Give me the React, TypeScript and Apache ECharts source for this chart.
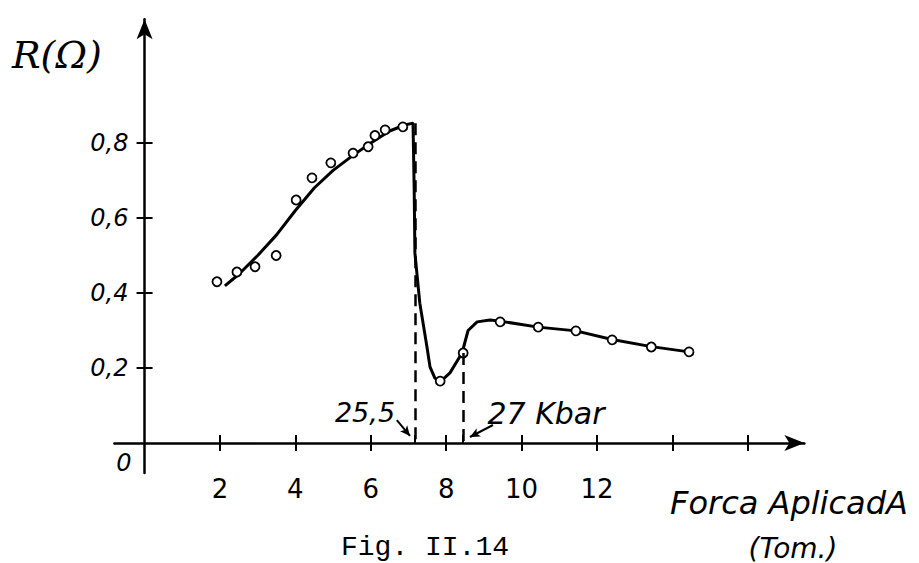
import { useEffect, useRef } from "react";
import * as echarts from "echarts";

// Measured points (open circles): applied force (Ton) vs resistance (ohm)
const pointForce = [1.92, 2.45, 2.93, 3.49, 4.02, 4.44, 4.94, 5.53, 5.93, 6.11, 6.38, 6.85, 7.84, 8.45, 9.43, 10.44, 11.44, 12.4, 13.44, 14.44];
const pointResistance = [0.43, 0.456, 0.47, 0.5, 0.648, 0.707, 0.747, 0.773, 0.79, 0.82, 0.835, 0.843, 0.165, 0.24, 0.323, 0.309, 0.299, 0.275, 0.256, 0.243];

// Hand-drawn fitted curve
const curveForce = [2.13, 2.5, 3.0, 3.5, 4.0, 4.5, 5.0, 5.5, 6.0, 6.5, 6.9, 7.12, 7.15, 7.17, 7.3, 7.49, 7.57, 7.7, 7.84, 8.1, 8.42, 8.58, 8.82, 9.16, 9.43, 10.44, 11.44, 12.4, 13.44, 14.44];
const curveResistance = [0.419, 0.45, 0.5, 0.555, 0.62, 0.68, 0.727, 0.765, 0.8, 0.832, 0.848, 0.853, 0.683, 0.507, 0.373, 0.256, 0.203, 0.173, 0.163, 0.187, 0.24, 0.3, 0.323, 0.328, 0.325, 0.309, 0.299, 0.276, 0.257, 0.243];

// Axis ticks / labels
const xTickValues = [2, 4, 6, 8, 10, 12, 14, 16];
const xLabelValues = [2, 4, 6, 8, 10, 12];
const yTickValues = [0.2, 0.4, 0.6, 0.8];

// Transition guides (dashed verticals) and annotation arrows
const guideForce = [7.17, 8.45];
const guideTop = [0.853, 0.24];
const arrowFrom = [[6.69, 0.061], [9.24, 0.048]];
const arrowTo = [[7.04, 0.019], [8.63, 0.016]];

const HAND = "'DejaVu Sans', 'Liberation Sans', sans-serif";

export default function App() {
  const ref = useRef<HTMLDivElement>(null);

  useEffect(() => {
    if (!ref.current) return;
    const chart = echarts.init(ref.current, undefined, { renderer: "svg" });
    const black = "#000";
    const tickStyle = { color: black, width: 2 };
    const xMin = -0.8, xMax = 17.5, yMin = -0.08, yMax = 1.13;

    const guideLines = guideForce.map((x, i) => [
      { coord: [x, guideTop[i]], symbol: "none" },
      { coord: [x, 0], symbol: "none" },
    ]);
    const arrowLines = arrowFrom.map((p, i) => [
      { coord: p, symbol: "none", lineStyle: { type: "solid", width: 2, color: black } },
      { coord: arrowTo[i], symbol: "arrow", symbolSize: [7, 10] },
    ]);

    chart.setOption({
      animation: false,
      backgroundColor: "#fff",
      grid: { left: 114.4, right: 114.6, top: 19.25, bottom: 90, containLabel: false },
      xAxis: [
        {
          type: "value", min: xMin, max: xMax, position: "bottom",
          axisLine: { show: true, onZero: true, symbol: ["none", "arrow"], symbolSize: [12, 20], lineStyle: { color: black, width: 2.5 } },
          axisTick: { show: true, customValues: xTickValues, length: 8, lineStyle: tickStyle },
          axisLabel: { show: true, customValues: xLabelValues, margin: 3, fontSize: 26, color: black, fontFamily: HAND },
          splitLine: { show: false },
        },
        {
          type: "value", min: xMin, max: xMax, position: "bottom",
          axisLine: { show: false, onZero: true },
          axisTick: { show: true, inside: true, customValues: [...xTickValues, ...guideForce], length: 8, lineStyle: tickStyle },
          axisLabel: { show: false },
          splitLine: { show: false },
        },
      ],
      yAxis: [
        {
          type: "value", min: yMin, max: yMax, position: "left",
          axisLine: { show: true, onZero: true, symbol: ["none", "arrow"], symbolSize: [12, 20], lineStyle: { color: black, width: 2.5 } },
          axisTick: { show: true, customValues: yTickValues, length: 8, lineStyle: tickStyle },
          axisLabel: {
            show: true, customValues: yTickValues, margin: -14, fontSize: 24, color: black,
            fontFamily: HAND, fontStyle: "italic",
            formatter: (v: number) => v.toFixed(1).replace(".", ","),
          },
          splitLine: { show: false },
        },
        {
          type: "value", min: yMin, max: yMax, position: "left",
          axisLine: { show: false, onZero: true },
          axisTick: { show: true, inside: true, customValues: yTickValues, length: 8, lineStyle: tickStyle },
          axisLabel: { show: false },
          splitLine: { show: false },
        },
      ],
      series: [
        {
          type: "line",
          xAxisIndex: 0, yAxisIndex: 0,
          data: curveForce.map((x, i) => [x, curveResistance[i]]),
          showSymbol: false,
          smooth: false,
          lineStyle: { color: black, width: 3 },
          z: 2,
          markLine: {
            silent: true,
            symbol: ["none", "none"],
            label: { show: false },
            lineStyle: { color: black, width: 2.5, type: [12, 7] },
            data: [...guideLines, ...arrowLines],
          },
        },
        {
          type: "scatter",
          xAxisIndex: 0, yAxisIndex: 0,
          data: pointForce.map((x, i) => [x, pointResistance[i]]),
          symbol: "circle",
          symbolSize: 9,
          itemStyle: { color: "#fff", borderColor: black, borderWidth: 1.8, opacity: 1 },
          z: 3,
        },
      ],
      graphic: [
        { type: "text", x: 12, y: 55, style: { text: "R(Ω)", fontSize: 38, fontStyle: "italic", fontFamily: "'DejaVu Serif', serif", fill: black, verticalAlign: "middle", align: "left" } },
        { type: "text", x: 124, y: 463, style: { text: "0", fontSize: 24, fontStyle: "italic", fontFamily: HAND, fill: black, verticalAlign: "middle", align: "center" } },
        { type: "text", x: 365, y: 412, style: { text: "25,5", fontSize: 27, fontStyle: "italic", fontFamily: HAND, fill: black, verticalAlign: "middle", align: "center" } },
        { type: "text", x: 546, y: 413, style: { text: "27 Kbar", fontSize: 30, fontStyle: "italic", fontFamily: HAND, fill: black, verticalAlign: "middle", align: "center" } },
        { type: "text", x: 670, y: 503, style: { text: "Forca AplicadA", fontSize: 32, fontStyle: "italic", fontFamily: HAND, fill: black, verticalAlign: "middle", align: "left" } },
        { type: "text", x: 793, y: 548, style: { text: "(Tom.)", fontSize: 28, fontStyle: "italic", fontFamily: HAND, fill: black, verticalAlign: "middle", align: "center" } },
        { type: "text", x: 425, y: 547, style: { text: "Fig. II.14", fontSize: 28, fontFamily: "'Liberation Mono', monospace", fill: black, verticalAlign: "middle", align: "center" } },
      ],
    });
    return () => chart.dispose();
  }, []);

  return <div ref={ref} style={{ position: "fixed", left: 0, top: 0, width: 919, height: 563 }} />;
}
